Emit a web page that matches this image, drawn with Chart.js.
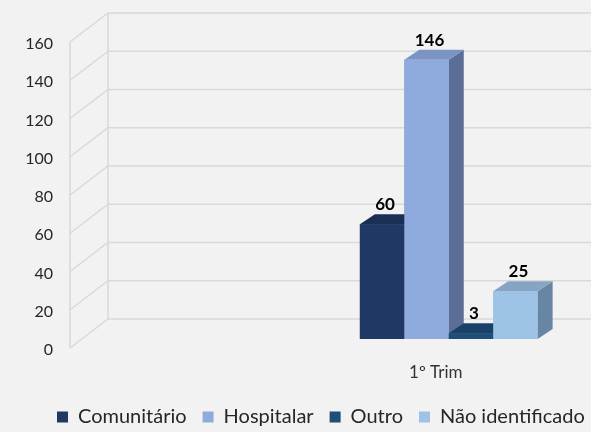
<!DOCTYPE html>
<html>
<head>
<meta charset="utf-8">
<script src="https://cdn.jsdelivr.net/npm/chart.js@4.4.0/dist/chart.umd.min.js"></script>
<style>
  body { margin: 0; background: #f2f2f2; }
  .box { width: 591px; height: 432px; }
</style>
</head>
<body>
<div class="box"><canvas id="trimChart"></canvas></div>
<script>
const categories = ["", "1º Trim"];
const series = ["Comunitário", "Hospitalar", "Outro", "Não identificado"];
const comunitario = [null, 60];
const hospitalar = [null, 146];
const outro = [null, 3];
const naoIdentificado = [null, 25];
const yMax = 160;
const yStep = 20;

const frontColors = ["#203864", "#8faadc", "#1f4e79", "#9dc3e6"];
const topColors = ["#1b2f55", "#7b94c4", "#1a4168", "#86a5c4"];
const sideColors = ["#17284a", "#5c6e96", "#163859", "#6886a3"];

// back wall + left wall, bars sit between front and back plane
const walls = {
  id: 'walls',
  beforeDatasetsDraw(chart) {
    const {ctx, chartArea, scales: {y}} = chart;
    const fx = chartArea.left - 12, bx = chartArea.left + 26;
    const top = y.getPixelForValue(yMax), bot = y.getPixelForValue(0);
    ctx.save();
    ctx.strokeStyle = '#d9d9d9';
    ctx.lineWidth = 1.5;
    ctx.beginPath();
    y.ticks.forEach(t => {
      const py = y.getPixelForValue(t.value);
      ctx.moveTo(fx, py + 9);
      ctx.lineTo(bx, py - 20);
      ctx.lineTo(chart.width, py - 20);
    });
    ctx.moveTo(fx, top + 9); ctx.lineTo(fx, bot + 9);
    ctx.moveTo(bx, top - 20); ctx.lineTo(bx, bot - 20);
    ctx.stroke();
    ctx.restore();
  }
};

const bars3d = {
  id: 'bars3d',
  afterDatasetsDraw(chart) {
    const ctx = chart.ctx;
    const dx = 15, dy = -10;
    const items = [];
    chart.data.datasets.forEach((ds, i) => {
      chart.getDatasetMeta(i).data.forEach((bar, j) => {
        if (ds.data[j] == null) return;
        items.push({p: bar.getProps(['x', 'y', 'base', 'width'], true), i, v: ds.data[j]});
      });
    });
    items.sort((a, b) => a.p.x - b.p.x);
    ctx.save();
    items.forEach(({p, i}) => {
      const l = p.x - p.width / 2, r = p.x + p.width / 2;
      ctx.fillStyle = sideColors[i];
      ctx.beginPath();
      ctx.moveTo(r, p.y); ctx.lineTo(r + dx, p.y + dy); ctx.lineTo(r + dx, p.base + dy); ctx.lineTo(r, p.base);
      ctx.closePath(); ctx.fill();
      ctx.fillStyle = topColors[i];
      ctx.beginPath();
      ctx.moveTo(l, p.y); ctx.lineTo(l + dx, p.y + dy); ctx.lineTo(r + dx, p.y + dy); ctx.lineTo(r, p.y);
      ctx.closePath(); ctx.fill();
      ctx.fillStyle = frontColors[i];
      ctx.fillRect(l, p.y, p.width, p.base - p.y);
    });
    ctx.font = 'bold 17px Lato';
    ctx.fillStyle = '#000';
    ctx.textAlign = 'center';
    ctx.textBaseline = 'alphabetic';
    items.forEach(({p, v}) => ctx.fillText(v, p.x + 3, p.y + dy - 4));
    ctx.restore();
  }
};

// legend sits further right than the centred default
const legendShift = {
  id: 'legendShift',
  afterLayout(chart) {
    chart.legend.left += 41;
    chart.legend.right = chart.width + 60;
  }
};

new Chart(document.getElementById('trimChart'), {
  type: 'bar',
  data: {
    labels: categories,
    datasets: [
      {label: series[0], data: comunitario, backgroundColor: frontColors[0]},
      {label: series[1], data: hospitalar, backgroundColor: frontColors[1]},
      {label: series[2], data: outro, backgroundColor: frontColors[2]},
      {label: series[3], data: naoIdentificado, backgroundColor: frontColors[3]}
    ]
  },
  options: {
    responsive: true,
    maintainAspectRatio: false,
    animation: false,
    layout: {padding: {top: 33, right: 20, left: 0, bottom: 0}},
    datasets: {bar: {categoryPercentage: 0.727, barPercentage: 1, borderWidth: 0}},
    plugins: {
      legend: {
        position: 'bottom',
        align: 'start',
        maxHeight: 41,
        labels: {boxWidth: 11, boxHeight: 11, padding: 16, color: '#262626', font: {family: 'Lato', size: 20}}
      },
      tooltip: {enabled: false}
    },
    scales: {
      x: {
        grid: {display: false},
        border: {display: false},
        ticks: {padding: 15, labelOffset: -13, color: '#333', font: {family: 'Lato', size: 17}},
        afterFit: s => { s.height = 52; }
      },
      y: {
        min: 0,
        max: yMax,
        grid: {display: false},
        border: {display: false},
        ticks: {stepSize: yStep, padding: 21, labelOffset: 11, color: '#262626', font: {family: 'Lato', size: 16}},
        afterFit: s => { s.width = 82; }
      }
    }
  },
  plugins: [walls, bars3d, legendShift]
});
</script>
</body>
</html>
